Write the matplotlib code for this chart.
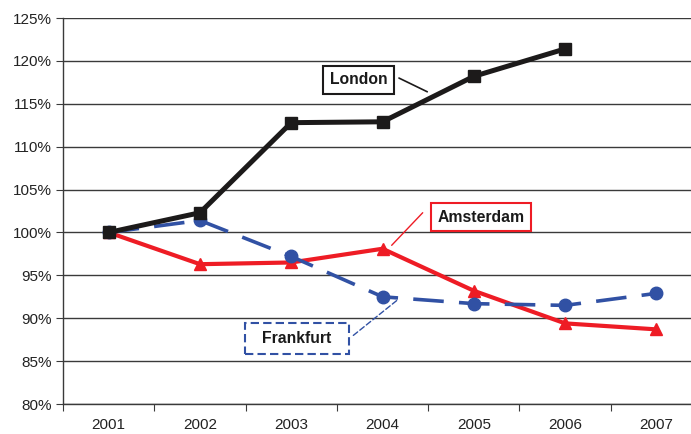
import matplotlib
matplotlib.use("Agg")
import matplotlib.pyplot as plt
from matplotlib.patches import Rectangle
from matplotlib.ticker import FixedLocator, FuncFormatter, NullFormatter

plt.rcParams['font.family'] = ['Liberation Sans', 'DejaVu Sans']
plt.rcParams['lines.scale_dashes'] = False

years = ["2001", "2002", "2003", "2004", "2005", "2006", "2007"]
london = [100.0, 102.3, 112.8, 112.9, 118.2, 121.4]
amsterdam = [100.0, 96.3, 96.5, 98.1, 93.2, 89.4, 88.7]
frankfurt = [100.0, 101.4, 97.2, 92.5, 91.7, 91.5, 92.9]
y_ticks = [80, 85, 90, 95, 100, 105, 110, 115, 120, 125]

BLACK = "#1c1a1a"
RED = "#ee1c25"
BLUE = "#3151a4"
GRID = "#3a3a3a"

fig = plt.figure(figsize=(6.91, 4.34), dpi=100)
ax = fig.add_axes([0.0912, 0.0691, 0.9248, 0.8894])

ax.set_xlim(-0.5, len(years) - 0.5)
ax.set_ylim(y_ticks[0], y_ticks[-1])

# horizontal grid at every 5 %
for v in y_ticks:
    ax.axhline(v, color=GRID, lw=1.0, zorder=1)

# series
ax.plot(range(len(frankfurt)), frankfurt, color=BLUE, lw=2.6,
        dashes=(22, 11), marker='o', ms=9, mfc=BLUE, mec=BLUE, zorder=4)
ax.plot(range(len(amsterdam)), amsterdam, color=RED, lw=3.0,
        marker='^', ms=9, mfc=RED, mec=RED, zorder=3)
ax.plot(range(len(london)), london, color=BLACK, lw=3.6,
        marker='s', ms=8, mfc=BLACK, mec=BLACK, zorder=5)

# axes styling
for side in ("top", "right"):
    ax.spines[side].set_visible(False)
for side in ("left", "bottom"):
    ax.spines[side].set_color(GRID)
    ax.spines[side].set_linewidth(1.0)

ax.yaxis.set_major_locator(FixedLocator(y_ticks))
ax.yaxis.set_major_formatter(FuncFormatter(lambda v, p: f"{v:.0f}%"))
ax.xaxis.set_major_locator(FixedLocator([i - 0.5 for i in range(len(years) + 1)]))
ax.xaxis.set_major_formatter(NullFormatter())
ax.xaxis.set_minor_locator(FixedLocator(range(len(years))))
ax.set_xticklabels(years, minor=True)
ax.tick_params(axis='x', which='minor', length=0, pad=10, labelsize=11, labelcolor="#222222")
ax.tick_params(axis='x', which='major', length=5, color=GRID, direction='out')
ax.tick_params(axis='y', length=5, color=GRID, direction='out', labelsize=11,
               labelcolor="#222222", pad=3)

# series labels with leader lines
lbl = dict(fontsize=11.3, fontweight='bold', color="#1a1a1a", ha='center', va='center', zorder=6)
ax.text(2.74, 117.8, "London",
        bbox=dict(boxstyle="square,pad=0.42", fc="white", ec=BLACK, lw=1.5), **lbl)
ax.annotate("", xy=(3.49, 116.4), xytext=(3.18, 118.0),
            arrowprops=dict(arrowstyle='-', color=BLACK, lw=1.2, shrinkA=0, shrinkB=0))

ax.text(4.08, 101.8, "Amsterdam",
        bbox=dict(boxstyle="square,pad=0.42", fc="white", ec=RED, lw=1.5), **lbl)
ax.annotate("", xy=(3.10, 98.5), xytext=(3.44, 102.3),
            arrowprops=dict(arrowstyle='-', color=RED, lw=1.0, shrinkA=0, shrinkB=0))

ax.add_patch(Rectangle((1.49, 85.85), 1.14, 3.6, fc="white", ec=BLUE, lw=1.5,
                       ls=(0, (6, 3)), zorder=5.5))
ax.text(2.06, 87.65, "Frankfurt", **lbl)
ax.annotate("", xy=(3.16, 92.1), xytext=(2.68, 88.0),
            arrowprops=dict(arrowstyle='-', color=BLUE, lw=1.0, ls=(0, (4, 2)),
                            shrinkA=0, shrinkB=0))

fig.savefig("out.png", dpi=100)
